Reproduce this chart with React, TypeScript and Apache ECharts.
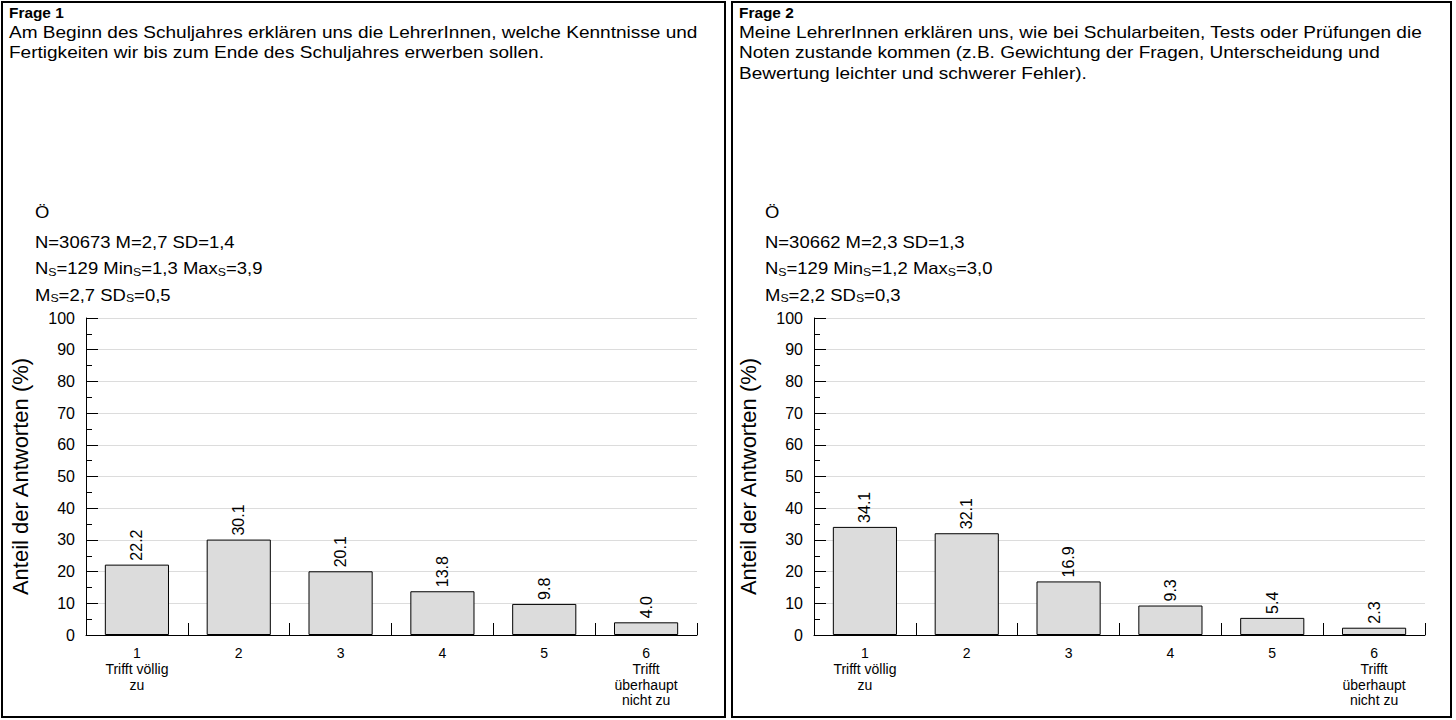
import React, { useEffect, useRef } from "react";
import * as echarts from "echarts";

const categories = ["1\nTrifft völlig\nzu", "2", "3", "4", "5", "6\nTrifft\nüberhaupt\nnicht zu"];
const frage1Values = [22.2, 30.1, 20.1, 13.8, 9.8, 4.0];
const frage2Values = [34.1, 32.1, 16.9, 9.3, 5.4, 2.3];
const yMin = 0;
const yMax = 100;
const yInterval = 10;
const yAxisTitle = "Anteil der Antworten (%)";

const frage1Title = "Frage 1";
const frage1Text = [
  "Am Beginn des Schuljahres erklären uns die LehrerInnen, welche Kenntnisse und",
  "Fertigkeiten wir bis zum Ende des Schuljahres erwerben sollen.",
];
const frage1Stats = {
  N: "30673", M: "2,7", SD: "1,4",
  NS: "129", MinS: "1,3", MaxS: "3,9", MS: "2,7", SDS: "0,5",
};

const frage2Title = "Frage 2";
const frage2Text = [
  "Meine LehrerInnen erklären uns, wie bei Schularbeiten, Tests oder Prüfungen die",
  "Noten zustande kommen (z.B. Gewichtung der Fragen, Unterscheidung und",
  "Bewertung leichter und schwerer Fehler).",
];
const frage2Stats = {
  N: "30662", M: "2,3", SD: "1,3",
  NS: "129", MinS: "1,2", MaxS: "3,0", MS: "2,2", SDS: "0,3",
};

const FONT = "'Liberation Sans', Arial, Helvetica, sans-serif";
const SX = 1.12;

function panelGraphics(offsetX: number, width: number, title: string, lines: string[], st: any) {
  const rich = {
    n: { fontSize: 16.5, fontFamily: FONT, color: "#000", lineHeight: 21, verticalAlign: "bottom" },
    s: { fontSize: 11, fontFamily: FONT, color: "#000", lineHeight: 12, verticalAlign: "bottom" },
  };
  const els: any[] = [
    {
      type: "rect",
      shape: { x: offsetX + 2, y: 2, width: width, height: 715 },
      style: { fill: "none", stroke: "#000", lineWidth: 2 },
      silent: true,
    },
    {
      type: "text",
      x: offsetX + 9,
      y: 13,
      scaleX: 1.1,
      style: { text: title, font: `bold 14px ${FONT}`, fill: "#000", verticalAlign: "middle" },
    },
  ];
  lines.forEach((l, i) => {
    els.push({
      type: "text",
      x: offsetX + 9,
      y: 32 + i * 20.7,
      scaleX: SX,
      style: { text: l, font: `17px ${FONT}`, fill: "#000", verticalAlign: "middle" },
    });
  });
  els.push({
    type: "text",
    x: offsetX + 35,
    y: 212,
    scaleX: SX,
    style: { text: "Ö", font: `16.5px ${FONT}`, fill: "#000", verticalAlign: "middle" },
  });
  const statLines = [
    `{n|N=${st.N} M=${st.M} SD=${st.SD}}`,
    `{n|N}{s|S}{n|=${st.NS} Min}{s|S}{n|=${st.MinS} Max}{s|S}{n|=${st.MaxS}}`,
    `{n|M}{s|S}{n|=${st.MS} SD}{s|S}{n|=${st.SDS}}`,
  ];
  statLines.forEach((t, i) => {
    els.push({
      type: "text",
      x: offsetX + 35,
      y: 240 + i * 26.5,
      scaleX: SX,
      style: { text: t, rich, verticalAlign: "middle" },
    });
  });
  return els;
}

function makeXAxis(gridIndex: number) {
  return {
    type: "category",
    gridIndex,
    data: categories,
    boundaryGap: true,
    axisLine: { show: true, lineStyle: { color: "#000", width: 1 } },
    axisTick: { show: true, inside: true, length: 12, lineStyle: { color: "#000", width: 1 } },
    axisLabel: {
      interval: 0,
      margin: 10,
      fontSize: 14,
      lineHeight: 15.8,
      color: "#000",
      fontFamily: FONT,
      align: "center",
    },
    splitLine: { show: false },
  };
}

function makeYAxis(gridIndex: number) {
  return {
    type: "value",
    gridIndex,
    min: yMin,
    max: yMax,
    interval: yInterval,
    name: yAxisTitle,
    nameLocation: "middle",
    nameGap: 55,
    nameTextStyle: { fontSize: 22, color: "#000", fontFamily: FONT },
    axisLine: { show: true, lineStyle: { color: "#000", width: 1 } },
    axisTick: { show: true, inside: true, length: 12, lineStyle: { color: "#000", width: 1 } },
    minorTick: { show: true, splitNumber: 2, length: 6, lineStyle: { color: "#000", width: 1 } },
    axisLabel: { margin: 11, fontSize: 16, color: "#000", fontFamily: FONT },
    splitLine: { show: true, lineStyle: { color: "#dcdcdc", width: 1 } },
  };
}

function makeSeries(idx: number, values: number[]) {
  return {
    type: "bar",
    xAxisIndex: idx,
    yAxisIndex: idx,
    data: values,
    barWidth: "63%",
    itemStyle: { color: "#dcdcdc", borderColor: "#000", borderWidth: 1 },
    label: {
      show: true,
      position: "top",
      rotate: 90,
      align: "left",
      verticalAlign: "middle",
      distance: 4,
      fontSize: 16,
      color: "#000",
      fontFamily: FONT,
      formatter: (p: any) => Number(p.value).toFixed(1),
    },
  };
}

export default function App() {
  const ref = useRef<HTMLDivElement>(null);
  useEffect(() => {
    if (!ref.current) return;
    const chart = echarts.init(ref.current, null, { renderer: "svg" });
    chart.setOption({
      animation: false,
      backgroundColor: "#fff",
      textStyle: { fontFamily: FONT },
      grid: [
        { left: 86, top: 318, width: 611, height: 317 },
        { left: 814, top: 318, width: 611, height: 317 },
      ],
      xAxis: [makeXAxis(0), makeXAxis(1)],
      yAxis: [makeYAxis(0), makeYAxis(1)],
      series: [makeSeries(0, frage1Values), makeSeries(1, frage2Values)],
      graphic: [
        ...panelGraphics(0, 723, frage1Title, frage1Text, frage1Stats),
        ...panelGraphics(730, 719, frage2Title, frage2Text, frage2Stats),
      ],
    });
    return () => chart.dispose();
  }, []);
  return (
    <div
      ref={ref}
      style={{ position: "absolute", left: 0, top: 0, width: 1456, height: 720 }}
    />
  );
}
